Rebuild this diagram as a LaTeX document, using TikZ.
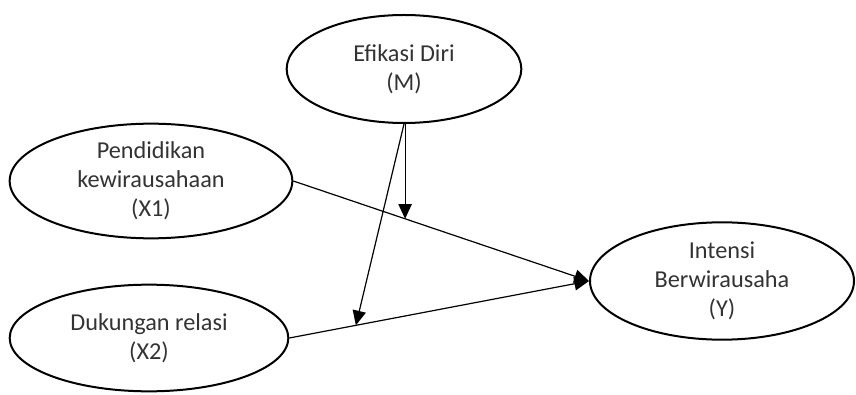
\documentclass[tikz,border=0pt]{standalone}
\usepackage{fontspec}
\setmainfont{Carlito}
\usetikzlibrary{shapes.geometric,arrows.meta}
\tikzset{
  var/.style={draw, ellipse, line width=1.5pt, align=center,
    font=\fontsize{18.2}{21.75}\selectfont, text=black!80, inner sep=0pt},
  arr/.style={line width=0.9pt, -{Triangle[length=11pt,width=10pt]}}
}
\begin{document}
\begin{tikzpicture}[x=0.75pt,y=-0.75pt]
      \useasboundingbox (0,0) rectangle (856,395);
      \node[var, minimum width=176pt, minimum height=81pt] (M) at (404,69) {Efikasi Diri\\(M)};
      \node[var, minimum width=212pt, minimum height=86pt] (X1) at (151,181) {Pendidikan\\kewirausahaan\\(X1)};
      \node[var, minimum width=209pt, minimum height=80pt] (X2) at (149,338) {Dukungan relasi\\(X2)};
      \node[var, minimum width=198pt, minimum height=88pt] (Y) at (722,281) {Intensi\\Berwirausaha\\(Y)};
      \begin{scope}[arr]
        \draw (X1.east) -- (Y.west) coordinate[pos=0.378] (t1);
        \draw (X2.east) -- (Y.west) coordinate[pos=0.222] (t2);
        \draw (M.south -| t1) -- (t1);
        \draw (M.south) -- (t2);
      \end{scope}
    \end{tikzpicture}
\end{document}
